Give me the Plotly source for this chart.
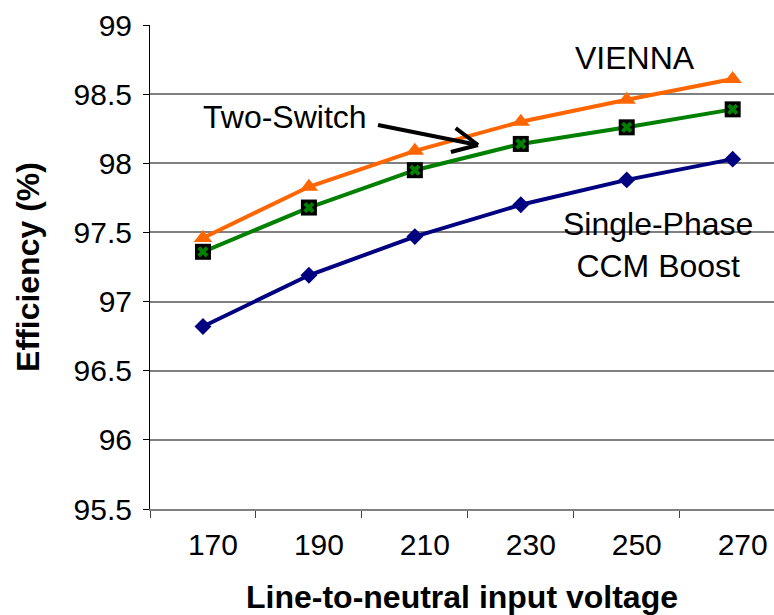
import math
import plotly.graph_objects as go

voltages = ["170", "190", "210", "230", "250", "270"]
vienna = [97.46, 97.83, 98.09, 98.30, 98.46, 98.61]
two_switch = [97.36, 97.68, 97.95, 98.14, 98.26, 98.39]
single_phase = [96.82, 97.19, 97.47, 97.70, 97.88, 98.03]
y_ticks = [95.5, 96, 96.5, 97, 97.5, 98, 98.5, 99]
y_tick_text = ["95.5", "96", "96.5", "97", "97.5", "98", "98.5", "99"]

FONT = "Liberation Sans, Arial, sans-serif"
L, T, PW, PH = 150, 25, 624, 484


def px(xp):
    return (xp - L) / PW


def py(yp):
    return (T + PH - yp) / PH


fig = go.Figure()
fig.add_trace(go.Scatter(
    x=voltages, y=single_phase, mode="lines+markers", name="Single-Phase CCM Boost",
    line=dict(color="#000080", width=4),
    marker=dict(symbol="diamond", size=13, color="#000080"),
))
fig.add_trace(go.Scatter(
    x=voltages, y=two_switch, mode="lines+markers", name="Two-Switch",
    line=dict(color="#008000", width=4),
    marker=dict(symbol="square", size=16, color="#000000"),
))
fig.add_trace(go.Scatter(
    x=voltages, y=two_switch, mode="markers", showlegend=False,
    marker=dict(symbol="x", size=10, color="#008000", line=dict(width=0)),
))
fig.add_trace(go.Scatter(
    x=voltages, y=vienna, mode="lines+markers", name="VIENNA",
    line=dict(color="#FF6600", width=4),
    marker=dict(symbol="triangle-up", size=16, color="#FF6600"),
))

ann_font = dict(family=FONT, size=32, color="black")
fig.add_annotation(text="VIENNA", xref="paper", yref="paper",
                   x=px(635), y=py(58), xanchor="center", yanchor="middle",
                   showarrow=False, font=ann_font)
fig.add_annotation(text="Single-Phase<br>CCM Boost", xref="paper", yref="paper",
                   x=px(658), y=py(245), xanchor="center", yanchor="middle",
                   showarrow=False, font=ann_font, align="center")
fig.add_annotation(text="Two-Switch", xref="paper", yref="paper",
                   x=px(285), y=py(117), xanchor="center", yanchor="middle",
                   showarrow=False, font=ann_font)

# arrow shaft and open chevron head
tail = (378, 125)
tip = (478, 145)
fig.add_shape(type="line", xref="paper", yref="paper",
              x0=px(tail[0]), y0=py(tail[1]), x1=px(tip[0]), y1=py(tip[1]),
              line=dict(color="black", width=4))
ang = math.atan2(tail[1] - tip[1], tail[0] - tip[0])
for d in (-0.45, 0.45):
    ex = tip[0] + 28 * math.cos(ang + d)
    ey = tip[1] + 28 * math.sin(ang + d)
    fig.add_shape(type="line", xref="paper", yref="paper",
                  x0=px(ex), y0=py(ey), x1=px(tip[0]), y1=py(tip[1]),
                  line=dict(color="black", width=4))

fig.update_layout(
    width=774, height=615,
    margin=dict(l=L, r=774 - L - PW, t=T, b=615 - T - PH),
    plot_bgcolor="white", paper_bgcolor="white",
    showlegend=False,
    font=dict(family=FONT, size=30, color="black"),
)
fig.update_xaxes(
    type="category", range=[-0.5, 5.39], automargin=False,
    tickson="boundaries", ticks="outside", ticklen=7, tickcolor="#404040", tickwidth=1,
    showline=True, linecolor="#808080", linewidth=2,
    showgrid=False, zeroline=False,
    ticklabelshift=10, ticklabelstandoff=8,
    tickfont=dict(family=FONT, size=30),
    title=dict(text="<b>Line-to-neutral input voltage</b>", font=dict(family=FONT, size=32), standoff=34),
)
fig.update_yaxes(
    range=[95.5, 99], tickvals=y_ticks, ticktext=y_tick_text, automargin=False,
    ticks="outside", ticklen=6, tickcolor="black",
    showline=True, linecolor="black", linewidth=1,
    showgrid=True, gridcolor="#808080", gridwidth=1.5, zeroline=False,
    ticklabelstandoff=5,
    tickfont=dict(family=FONT, size=30),
    title=dict(text="<b>Efficiency (%)</b>", font=dict(family=FONT, size=32), standoff=24),
)

fig.write_html("out.html", config={"displayModeBar": False},
               post_script="document.body.style.margin='0';")
